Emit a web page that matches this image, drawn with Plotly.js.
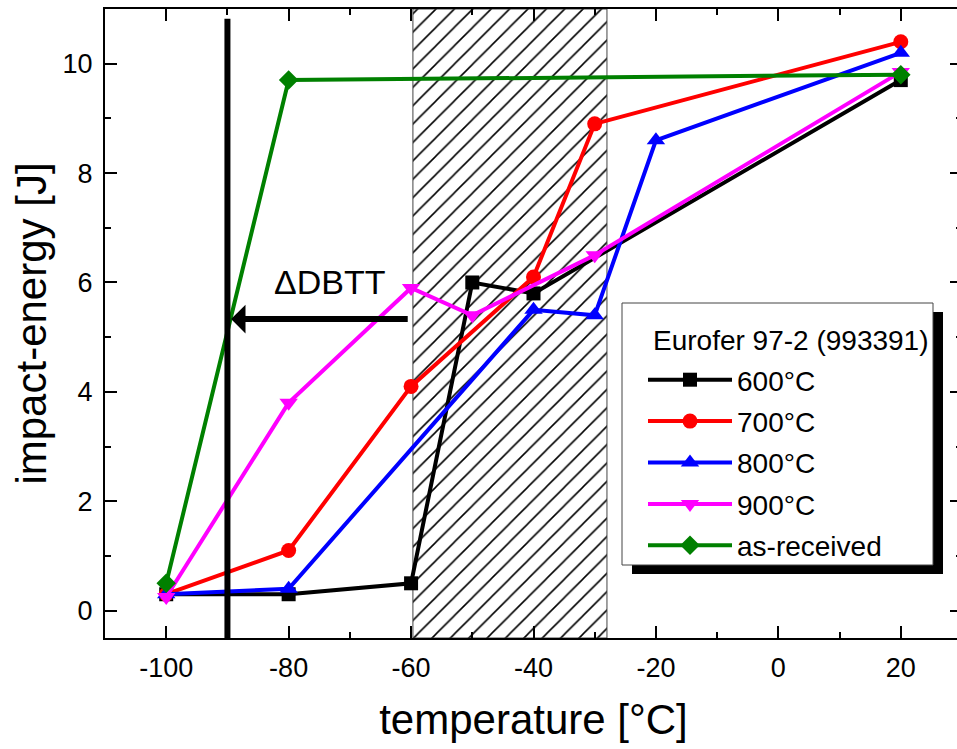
<!DOCTYPE html>
<html>
<head>
<meta charset="utf-8">
<script src="https://cdn.plot.ly/plotly-3.0.1.min.js"></script>
<style>html,body{margin:0;padding:0;overflow:hidden;background:#fff;}</style>
</head>
<body>
<div id="chart"></div>
<script>
// ---- data ----
const seriesNames = ['600°C', '700°C', '800°C', '900°C', 'as-received'];
const temp600 = [-100, -80, -60, -50, -40, 20];
const energy600 = [0.3, 0.3, 0.5, 6.0, 5.8, 9.7];
const temp700 = [-100, -80, -60, -40, -30, 20];
const energy700 = [0.3, 1.1, 4.1, 6.1, 8.9, 10.4];
const temp800 = [-100, -80, -40, -30, -20, 20];
const energy800 = [0.3, 0.4, 5.5, 5.4, 8.6, 10.2];
const temp900 = [-100, -80, -60, -50, -30, 20];
const energy900 = [0.25, 3.8, 5.9, 5.4, 6.5, 9.85];
const tempAR = [-100, -80, 20];
const energyAR = [0.5, 9.7, 9.8];

// tick labels
const xTickVals = [-100, -80, -60, -40, -20, 0, 20];
const xTickText = ['-100', '-80', '-60', '-40', '-20', '0', '20'];
const yTickVals = [0, 2, 4, 6, 8, 10];
const yTickText = ['0', '2', '4', '6', '8', '10'];

// transition band (hatched) and DBTT markers
const bandX = [-59.7, -28];
const markerLineX = -90;
const markerLineY = [-0.5, 10.82];
const arrowFromX = -60.3, arrowToX = -89.4, arrowY = 5.33;
const labelDBTT = 'ΔDBTT';
const labelDBTTpos = [-73.3, 6.0];
const legendTitle = 'Eurofer 97-2 (993391)';

const xRange = [-110, 30];
const yRange = [-0.5, 11];

const FONT = 'Liberation Sans, Arial, sans-serif';
const colors = ['#000000', '#ff0000', '#0000ff', '#ff00ff', '#008000'];
const symbols = ['square', 'circle', 'triangle-up', 'triangle-down', 'diamond'];
const msizes = [14, 15, 16, 16, 15];
const xs = [temp600, temp700, temp800, temp900, tempAR];
const ys = [energy600, energy700, energy800, energy900, energyAR];

const traces = [];
// hatched band
traces.push({
  x: [bandX[0], bandX[1], bandX[1], bandX[0], bandX[0]],
  y: [yRange[0], yRange[0], yRange[1], yRange[1], yRange[0]],
  mode: 'lines', fill: 'toself',
  line: {color: '#444', width: 1},
  fillcolor: 'white',
  fillpattern: {shape: '/', size: 13, solidity: 0.12, fgcolor: '#000', bgcolor: '#fff'},
  showlegend: false, hoverinfo: 'skip'
});
for (let i = 0; i < seriesNames.length; i++) {
  traces.push({
    x: xs[i], y: ys[i], name: seriesNames[i], legendgroup: 'g' + i,
    mode: 'lines+markers',
    line: {color: colors[i], width: 4},
    marker: {symbol: symbols[i], size: msizes[i], color: colors[i]}
  });
}

const W = 965, H = 749;
const L = 105, R = 3, T = 9, B = 111;
const pw = W - L - R, ph = H - T - B;
function px2paperX(p) { return (p - L) / pw; }
function px2paperY(p) { return (H - B - p) / ph; }

const axisCommon = {
  ticks: 'inside', ticklen: 12, tickwidth: 2, tickcolor: '#000',
  showline: true, linewidth: 2, linecolor: '#000', mirror: 'ticks',
  showgrid: false, zeroline: false,
  tickfont: {size: 27, family: FONT, color: '#000'}
};

const layout = {
  width: W, height: H,
  margin: {l: L, r: R, t: T, b: B, pad: 0},
  paper_bgcolor: '#fff', plot_bgcolor: '#fff',
  font: {family: FONT, color: '#000', size: 27},
  showlegend: true,
  xaxis: Object.assign({}, axisCommon, {
    range: xRange, tickmode: 'array', tickvals: xTickVals, ticktext: xTickText,
    minor: {dtick: 10, tick0: 0, ticks: 'inside', ticklen: 6, tickwidth: 2, tickcolor: '#000'},
    ticklabelstandoff: 5,
    title: {text: 'temperature [°C]', font: {size: 42, family: FONT}, standoff: 22}
  }),
  yaxis: Object.assign({}, axisCommon, {
    range: yRange, tickmode: 'array', tickvals: yTickVals, ticktext: yTickText,
    minor: {dtick: 1, tick0: 0, ticks: 'inside', ticklen: 6, tickwidth: 2, tickcolor: '#000'},
    ticklabelstandoff: 5,
    title: {text: 'impact-energy [J]', font: {size: 42, family: FONT}, standoff: 3}
  }),
  legend: {
    x: px2paperX(643), y: px2paperY(355), xanchor: 'left', yanchor: 'top',
    bgcolor: 'rgba(0,0,0,0)', borderwidth: 0,
    font: {size: 28, family: FONT},
    itemwidth: 84, tracegroupgap: 2
  },
  shapes: [
    {type: 'line', xref: 'x', yref: 'y', x0: markerLineX, x1: markerLineX,
     y0: markerLineY[0], y1: markerLineY[1], line: {color: '#000', width: 6}},
    // legend shadow and frame
    {type: 'rect', xref: 'paper', yref: 'paper', layer: 'above',
     x0: px2paperX(632), x1: px2paperX(943), y0: px2paperY(574), y1: px2paperY(312),
     fillcolor: '#000', line: {width: 0}},
    {type: 'rect', xref: 'paper', yref: 'paper', layer: 'above',
     x0: px2paperX(622), x1: px2paperX(933), y0: px2paperY(565), y1: px2paperY(303),
     fillcolor: '#fff', line: {color: '#444', width: 1}}
  ],
  annotations: [
    {x: labelDBTTpos[0], y: labelDBTTpos[1], xref: 'x', yref: 'y', text: labelDBTT,
     showarrow: false, font: {size: 34, family: FONT}},
    {x: arrowToX, y: arrowY, ax: arrowFromX, ay: arrowY, xref: 'x', yref: 'y',
     axref: 'x', ayref: 'y', text: '', showarrow: true,
     arrowhead: 1, arrowwidth: 6, arrowsize: 0.8, arrowcolor: '#000', standoff: 0},
    {x: px2paperX(651), y: px2paperY(340), xref: 'paper', yref: 'paper',
     xanchor: 'left', yanchor: 'middle', text: legendTitle, showarrow: false,
     font: {size: 28, family: FONT}}
  ]
};

Plotly.newPlot('chart', traces, layout, {staticPlot: true, displayModeBar: false});
</script>
</body>
</html>
